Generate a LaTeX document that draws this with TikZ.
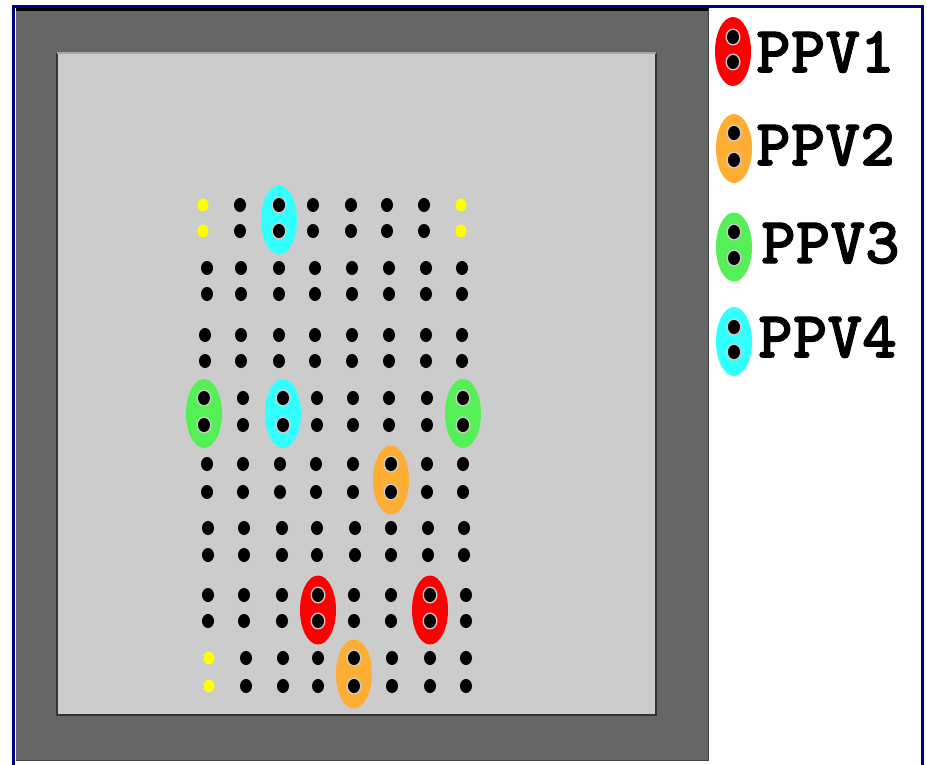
\documentclass[tikz,border=0pt]{standalone}
\usepackage{fontspec}
\newfontfamily\legfont[FakeBold=1.5]{lmmonolt10-bold.otf}
\usetikzlibrary{shapes.geometric}
\definecolor{framegray}{HTML}{666666}
\definecolor{panelgray}{HTML}{CCCCCC}
\definecolor{navyline}{HTML}{000088}
\definecolor{ppvred}{HTML}{FF0000}
\definecolor{ppvorange}{HTML}{FFAD33}
\definecolor{ppvgreen}{HTML}{55F055}
\definecolor{ppvcyan}{HTML}{33FFFF}
\definecolor{dotyellow}{HTML}{FFFF00}
\newcommand\ppvoval[5]{%
  \node[oval, fill=#2] (#1) at (#3, {(#4+#5)/2+2}) {};
  \node[hole] (#1-ha) at (#3,#4) {};
  \node[hole] (#1-hb) at (#3,#5) {};
}
\begin{document}
\begin{tikzpicture}[x=1pt,y=-1pt,
  dot/.style={ellipse, fill=black, minimum width=12pt, minimum height=14pt, inner sep=0pt},
  ydot/.style={dot, fill=dotyellow, minimum width=11pt, minimum height=13pt},
  oval/.style={ellipse, minimum width=36pt, minimum height=69pt, inner sep=0pt},
  hole/.style={ellipse, fill=panelgray, minimum width=15pt, minimum height=17pt, inner sep=0pt},
  legtext/.style={anchor=west, inner sep=0pt, font=\legfont\fontsize{66}{66}\selectfont}]
\useasboundingbox (0,0) rectangle (927,764);
\fill[white] (0,0) rectangle (927,764);
% outer frame
\fill[framegray] (16,8) rectangle (709,761);
\draw[black, line width=3pt] (16,9.5) -- (709,9.5);
\draw[black!75, line width=1.5pt] (708.5,9) -- (708.5,761);
\draw[black!75, line width=1.5pt] (16,760.5) -- (709,760.5);
\draw[navyline, line width=3pt] (13.5,770) -- (13.5,6) -- (922,6) -- (922,770);
% inner panel
\fill[panelgray] (57,53) rectangle (656,715);
\draw[black!80, line width=2.5pt] (57,53) -- (57,715) -- (656,715) -- (656,53);
\draw[black!35, line width=1.5pt] (57,53) -- (656,53);
% ovals in the grid
\ppvoval{c1}{ppvcyan}{279}{205}{231}
\ppvoval{g1}{ppvgreen}{204}{398}{425}
\ppvoval{c2}{ppvcyan}{283}{398}{425}
\ppvoval{g2}{ppvgreen}{463}{398}{425}
\ppvoval{o1}{ppvorange}{391}{464}{492}
\ppvoval{r1}{ppvred}{318}{595}{621}
\ppvoval{r2}{ppvred}{430}{595}{621}
\ppvoval{o2}{ppvorange}{354}{658}{686}
% dot grid
\foreach \r/\ya/\yb/\xs in {
  1/205/231/{203,240,279,313,351,387,424,461},
  2/268/294/{207,241,279,315,352,389,426,462},
  3/335/361/{205,241,279,315,352,389,426,462},
  4/398/425/{204,243,283,317,353,389,427,463},
  5/464/492/{207,243,280,316,353,391,427,463},
  6/528/555/{208,244,282,317,355,391,428,464},
  7/595/621/{208,244,282,318,354,391,430,466},
  8/658/686/{209,246,283,318,354,392,430,466}}{
  \foreach \x [count=\c] in \xs {
    \pgfmathsetmacro\isyel{(\r==1 && (\c==1 || \c==8)) || (\r==8 && \c==1) ? 1 : 0}
    \ifdim\isyel pt>0.5pt
      \node[ydot] (d\r-\c-a) at (\x,\ya) {};
      \node[ydot] (d\r-\c-b) at (\x,\yb) {};
    \else
      \node[dot] (d\r-\c-a) at (\x,\ya) {};
      \node[dot] (d\r-\c-b) at (\x,\yb) {};
    \fi
  }
}
% legend
\ppvoval{l1}{ppvred}{733}{37}{62}
\ppvoval{l2}{ppvorange}{734}{133}{160}
\ppvoval{l3}{ppvgreen}{734}{232}{258}
\ppvoval{l4}{ppvcyan}{734}{327}{352}
\node[dot] (l1a) at (733,37) {}; \node[dot] (l1b) at (733,62) {};
\node[dot] (l2a) at (734,133) {}; \node[dot] (l2b) at (734,160) {};
\node[dot] (l3a) at (734,232) {}; \node[dot] (l3b) at (734,258) {};
\node[dot] (l4a) at (734,327) {}; \node[dot] (l4b) at (734,352) {};
\node[legtext] (t1) at (756,52) {PPV1};
\node[legtext] (t2) at (756,145) {PPV2};
\node[legtext] (t3) at (761,243) {PPV3};
\node[legtext] (t4) at (758,337) {PPV4};
\end{tikzpicture}
\end{document}
